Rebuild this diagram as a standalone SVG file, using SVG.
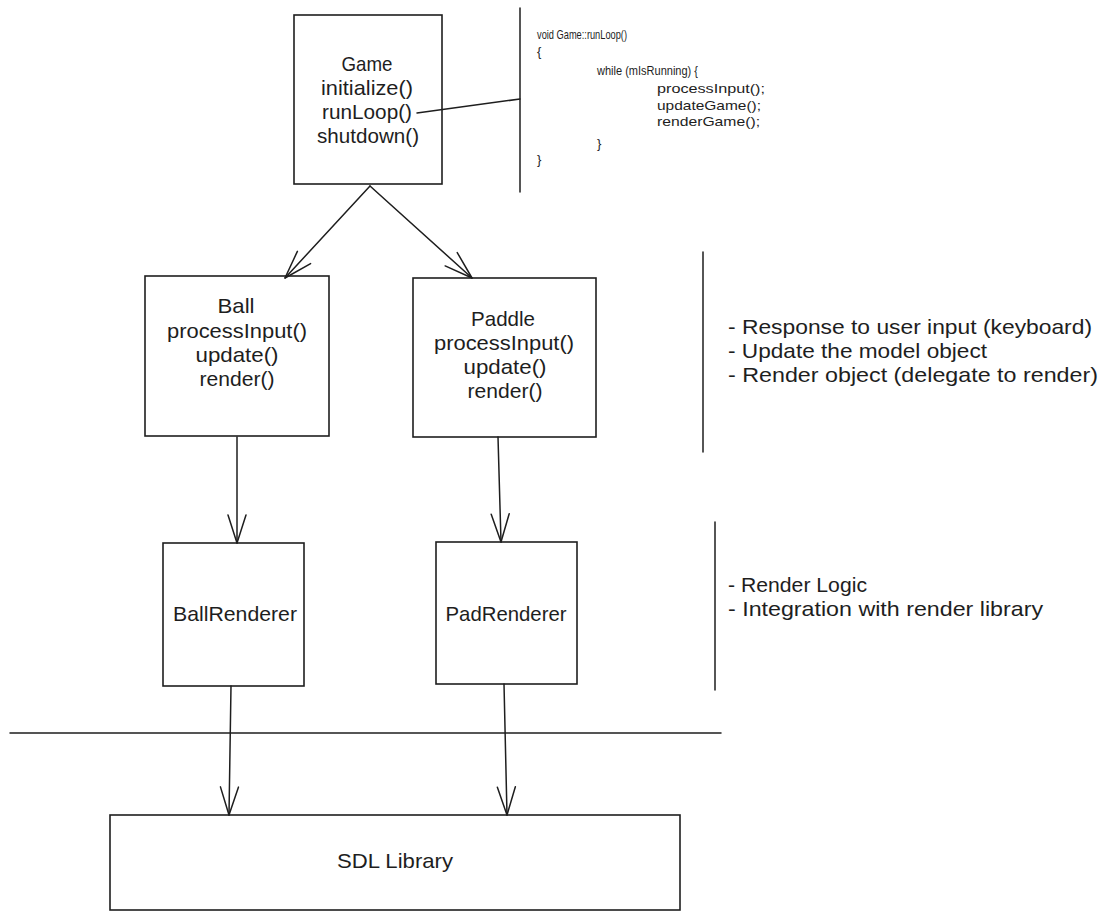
<svg xmlns="http://www.w3.org/2000/svg" width="1103" height="920" viewBox="0 0 1103 920">
<style>
  .box { fill: #ffffff; stroke: #1e1e1e; stroke-width: 1.6; }
  .ln { fill: none; stroke: #1e1e1e; stroke-width: 1.5; stroke-linecap: round; }
  .arr { fill: none; stroke: #1e1e1e; stroke-width: 1.5; stroke-linecap: round; marker-end: url(#ah); }
  .t { font-family: "Liberation Sans", Arial, sans-serif; font-size: 21px; fill: #1e1e1e; text-anchor: middle; }
  .n { font-family: "Liberation Sans", Arial, sans-serif; font-size: 21px; fill: #1e1e1e; }
  .c { font-family: "Liberation Sans", Arial, sans-serif; font-size: 13px; fill: #1e1e1e; }
</style>
<defs>
  <marker id="ah" markerUnits="userSpaceOnUse" markerWidth="32" markerHeight="22" refX="30" refY="11" orient="auto" overflow="visible">
    <path d="M2,2 L30,11 L2,20" fill="none" stroke="#1e1e1e" stroke-width="1.5" stroke-linecap="round" stroke-linejoin="round"/>
  </marker>
</defs>
<rect width="1103" height="920" fill="#ffffff"/>

<g id="separators">
  <path class="ln" d="M520,8 L520,192"/>
  <path class="ln" d="M703,252 L703,452"/>
  <path class="ln" d="M715,522 L715,690"/>
  <path class="ln" d="M10,733 L721,733"/>
</g>

<g id="game">
  <rect class="box" x="294" y="15" width="148" height="169"/>
  <text class="t" x="367" y="71" textLength="51" lengthAdjust="spacingAndGlyphs">Game</text>
  <text class="t" x="367" y="95" textLength="92" lengthAdjust="spacingAndGlyphs">initialize()</text>
  <text class="t" x="367" y="119" textLength="90" lengthAdjust="spacingAndGlyphs">runLoop()</text>
  <text class="t" x="368" y="143" textLength="102" lengthAdjust="spacingAndGlyphs">shutdown()</text>
</g>

<g id="code-note">
  <text class="c" x="537" y="39" textLength="90" lengthAdjust="spacingAndGlyphs">void Game::runLoop()</text>
  <text class="c" x="537" y="56">{</text>
  <text class="c" x="597" y="75" textLength="101" lengthAdjust="spacingAndGlyphs">while (mIsRunning) {</text>
  <text class="c" x="657" y="93" textLength="108" lengthAdjust="spacingAndGlyphs">processInput();</text>
  <text class="c" x="657" y="110" textLength="104" lengthAdjust="spacingAndGlyphs">updateGame();</text>
  <text class="c" x="657" y="126" textLength="103" lengthAdjust="spacingAndGlyphs">renderGame();</text>
  <text class="c" x="597" y="148">}</text>
  <text class="c" x="537" y="164">}</text>
</g>

<g id="ball">
  <rect class="box" x="145" y="276" width="184" height="160"/>
  <text class="t" x="236" y="313" textLength="37" lengthAdjust="spacingAndGlyphs">Ball</text>
  <text class="t" x="237" y="338" textLength="140" lengthAdjust="spacingAndGlyphs">processInput()</text>
  <text class="t" x="237" y="362" textLength="83" lengthAdjust="spacingAndGlyphs">update()</text>
  <text class="t" x="237" y="386" textLength="75" lengthAdjust="spacingAndGlyphs">render()</text>
</g>

<g id="paddle">
  <rect class="box" x="413" y="278" width="183" height="159"/>
  <text class="t" x="503" y="326" textLength="64" lengthAdjust="spacingAndGlyphs">Paddle</text>
  <text class="t" x="504" y="350" textLength="140" lengthAdjust="spacingAndGlyphs">processInput()</text>
  <text class="t" x="505" y="374" textLength="83" lengthAdjust="spacingAndGlyphs">update()</text>
  <text class="t" x="505" y="398" textLength="75" lengthAdjust="spacingAndGlyphs">render()</text>
</g>

<g id="model-note">
  <text class="n" x="728" y="334" textLength="364" lengthAdjust="spacingAndGlyphs">- Response to user input (keyboard)</text>
  <text class="n" x="728" y="358" textLength="259" lengthAdjust="spacingAndGlyphs">- Update the model object</text>
  <text class="n" x="728" y="382" textLength="370" lengthAdjust="spacingAndGlyphs">- Render object (delegate to render)</text>
</g>

<g id="ballrenderer">
  <rect class="box" x="163" y="543" width="141" height="143"/>
  <text class="t" x="235" y="621" textLength="124" lengthAdjust="spacingAndGlyphs">BallRenderer</text>
</g>

<g id="padrenderer">
  <rect class="box" x="436" y="542" width="141" height="142"/>
  <text class="t" x="506" y="621" textLength="121" lengthAdjust="spacingAndGlyphs">PadRenderer</text>
</g>

<g id="render-note">
  <text class="n" x="728" y="592" textLength="139" lengthAdjust="spacingAndGlyphs">- Render Logic</text>
  <text class="n" x="728" y="616" textLength="315" lengthAdjust="spacingAndGlyphs">- Integration with render library</text>
</g>

<g id="sdl">
  <rect class="box" x="110" y="815" width="570" height="95"/>
  <text class="t" x="395" y="868" textLength="116" lengthAdjust="spacingAndGlyphs">SDL Library</text>
</g>

<g id="connectors">
  <path class="arr" d="M370,186 L285,278"/>
  <path class="arr" d="M370,186 L472,278"/>
  <path class="arr" d="M237,437 L237,543"/>
  <path class="arr" d="M498,437 L501,542"/>
  <path class="arr" d="M231,686 L229,815"/>
  <path class="arr" d="M504,684 L507,815"/>
  <path class="ln" d="M417,113 L520,99"/>
</g>
</svg>
